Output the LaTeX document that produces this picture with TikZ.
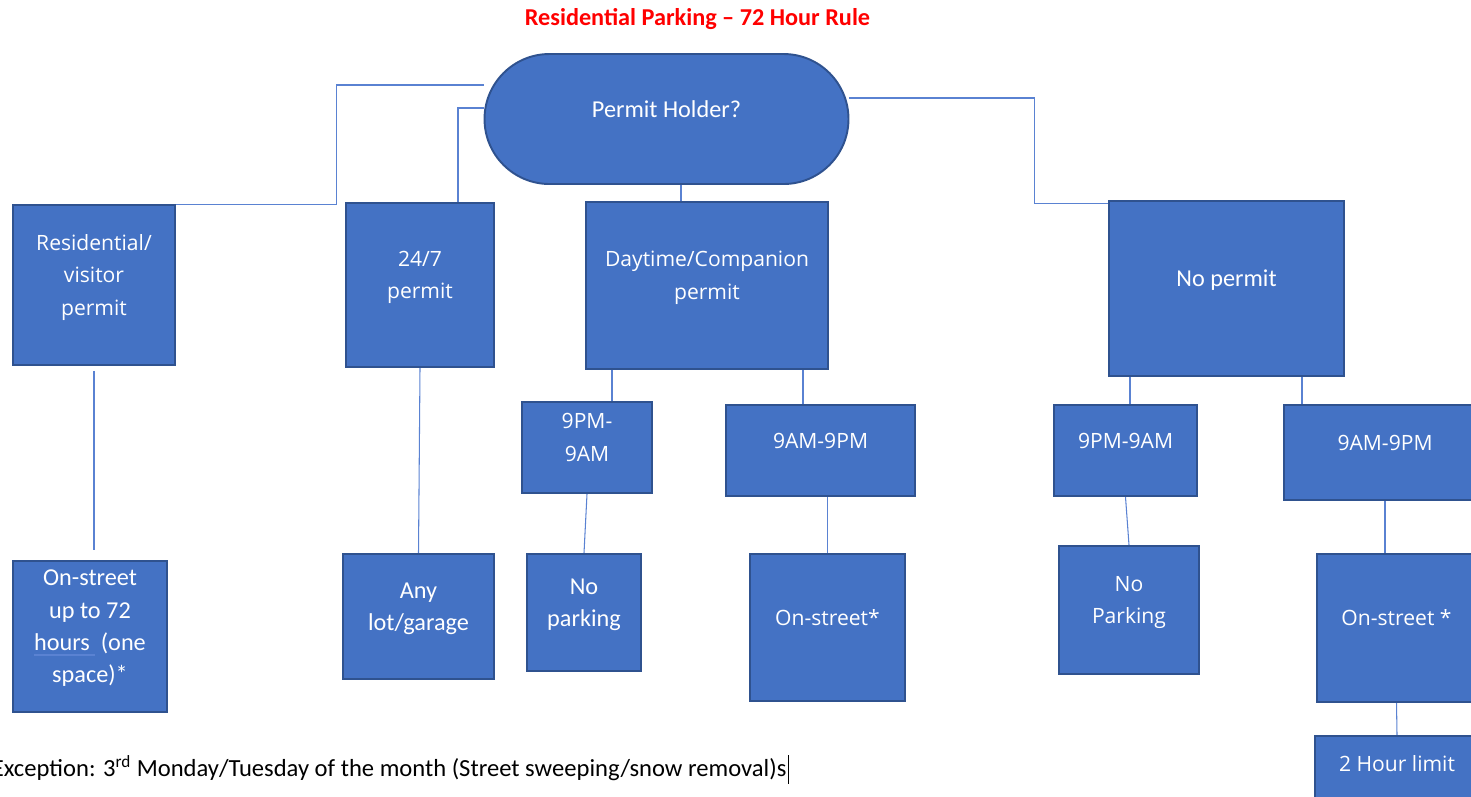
\documentclass[tikz,border=0pt]{standalone}
\usepackage{fontspec}
\setmainfont{Carlito}
\newfontfamily\segoefont{Open Sans}
\usetikzlibrary{shapes.misc,backgrounds}

\definecolor{boxfill}{RGB}{68,114,196}
\definecolor{boxline}{RGB}{47,82,143}
\definecolor{linkblue}{RGB}{90,130,210}
\definecolor{titlered}{RGB}{255,0,0}

\newcommand{\spellmark}[1]{{\setbox0\hbox{#1}\rlap{\color{linkblue}\rule[-3pt]{\wd0}{0.8pt}}\box0}}

\tikzstyle{block} = [rectangle,draw=boxline,fill=boxfill,line width=1.1pt,text=white,align=center,inner sep=2pt,execute at end node={\rule[-11.5pt]{0pt}{11.5pt}}]
\tikzstyle{pill} = [block,rounded rectangle]
\tikzstyle{calib} = [font={\fontsize{13.8}{18.4}\selectfont}]
\tikzstyle{segoe} = [font={\segoefont\fontsize{12}{18.4}\selectfont}]
\tikzstyle{link} = [linkblue,line width=0.6pt]

\begin{document}
\begin{tikzpicture}[>=latex]
	\useasboundingbox (0,0) rectangle (29.42,-15.92);

	\node (title) at (13.95,-0.38) [text=titlered,font={\bfseries\fontsize{13.8}{16}\selectfont}] {Residential Parking – 72 Hour Rule};

	\node (holder) at (13.33,-2.38) [pill,calib,minimum width=7.42cm,minimum height=2.6cm] {Permit Holder?};

	\node (p_res) at (1.88,-5.70) [block,segoe,minimum width=3.24cm,minimum height=3.2cm] {Residential/\\visitor\\permit};
	\node (p_247) at (8.40,-5.70) [block,segoe,minimum width=2.96cm,minimum height=3.28cm] {24/7\\permit};
	\node (p_day) at (14.14,-5.71) [block,segoe,minimum width=4.84cm,minimum height=3.34cm] {Daytime/Companion\\permit};
	\node (p_none) at (24.53,-5.77) [block,calib,minimum width=4.70cm,minimum height=3.50cm] {No permit};

	\node (t_day_pm) at (11.74,-8.95) [block,segoe,minimum width=2.60cm,minimum height=1.82cm] {9PM-\\9AM};
	\node (t_day_am) at (16.41,-9.01) [block,segoe,minimum width=3.78cm,minimum height=1.82cm] {9AM-9PM};
	\node (t_none_pm) at (22.51,-9.01) [block,segoe,minimum width=2.86cm,minimum height=1.82cm] {9PM-9AM};
	\node (t_none_am) at (27.70,-9.05) [block,segoe,minimum width=4.04cm,minimum height=1.90cm] {9AM-9PM};

	\node (r_res) at (1.80,-12.73) [block,calib,minimum width=3.08cm,minimum height=3.02cm] {On-street\\up to 72\\\spellmark{hours\ }\ (one\\space)*};
	\node (r_247) at (8.37,-12.33) [block,calib,minimum width=3.02cm,minimum height=2.50cm] {Any\\lot/garage};
	\node (r_day_pm) at (11.68,-12.25) [block,calib,minimum width=2.28cm,minimum height=2.34cm] {No\\parking};
	\node (r_day_am) at (16.55,-12.55) [block,segoe,minimum width=3.10cm,minimum height=2.94cm] {On-street*};
	\node (r_none_pm) at (22.58,-12.20) [block,segoe,minimum width=2.80cm,minimum height=2.56cm] {No\\Parking};
	\node (r_none_am) at (27.93,-12.56) [block,segoe,minimum width=3.18cm,minimum height=2.96cm] {On-street *};
	\node (r_limit) at (27.94,-15.48) [block,segoe,minimum width=3.28cm,minimum height=1.52cm] {2 Hour limit};

	\node (note) at (-0.17,-15.53) [anchor=base west,inner sep=0pt,font={\fontsize{14}{16}\selectfont}] {Exception: 3\textsuperscript{rd} Monday/Tuesday of the month (Street sweeping/snow removal)s\hspace{1pt}\rule[-4pt]{0.6pt}{16pt}};

	\begin{scope}[on background layer]
		\draw[link] ([yshift=0.68cm]holder.west) -- ++(-2.94,0) |- (p_res.north east);
		\draw[link] ([yshift=0.22cm]holder.west) -| ([xshift=0.76cm]p_247.north);
		\draw[link] ([xshift=0.29cm]holder.south) -- ([xshift=0.29cm]holder.south |- p_day.north);
		\draw[link] ([yshift=0.42cm]holder.east) -- ++(3.7,0) |- ([yshift=-0.06cm]p_none.north west);

		\path[link]
			(p_res.south) edge[shorten <=0.1cm,shorten >=0.2cm] (p_res.south |- r_res.north)
			(p_247.south) edge (r_247.north)

			([xshift=0.5cm]t_day_pm.north |- p_day.south) edge ([xshift=0.5cm]t_day_pm.north)
			([xshift=-0.35cm]t_day_am.north |- p_day.south) edge ([xshift=-0.35cm]t_day_am.north)
			([xshift=0.09cm]t_none_pm.north |- p_none.south) edge ([xshift=0.09cm]t_none_pm.north)
			([xshift=-1.66cm]t_none_am.north |- p_none.south) edge ([xshift=-1.66cm]t_none_am.north)

			(t_day_pm.south) edge (r_day_pm.north)
			(r_day_am.north |- t_day_am.south) edge (r_day_am.north)
			(t_none_pm.south) edge (r_none_pm.north)
			(t_none_am.south) edge (t_none_am.south |- r_none_am.north)
			(r_none_am.south) edge (r_limit.north)
			;
	\end{scope}

\end{tikzpicture}
\end{document}
